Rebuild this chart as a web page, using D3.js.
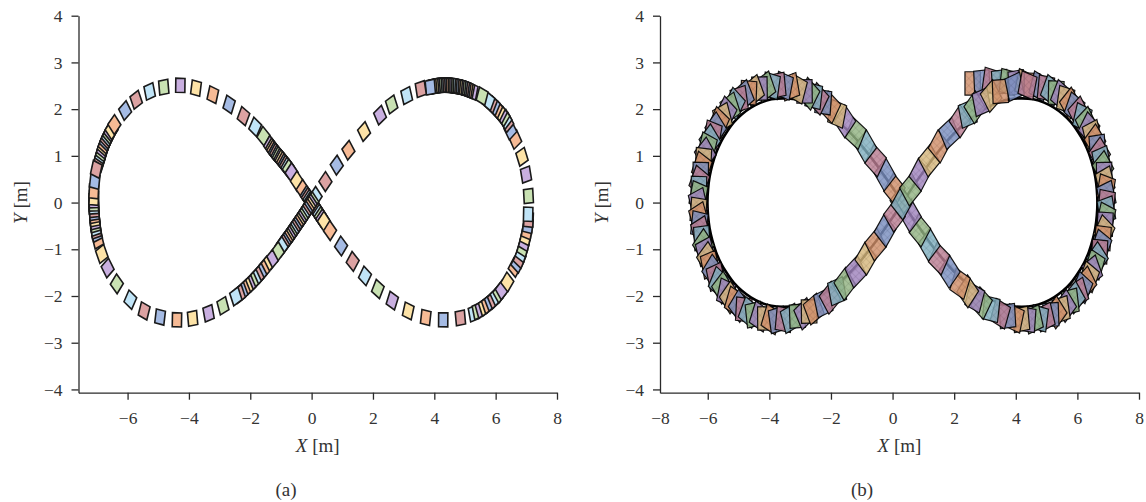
<!DOCTYPE html>
<html><head><meta charset="utf-8">
<script src="https://cdn.jsdelivr.net/npm/d3@7"></script>
<style>
body{margin:0;background:#fff}
svg{display:block}
svg text{font-family:"Liberation Serif","DejaVu Serif","Times New Roman",serif;fill:#333}
</style>
</head><body>
<svg id="c" width="1146" height="502"></svg>
<script>
// ---------------- data ----------------
const xTickValuesA = [-6,-4,-2,0,2,4,6,8];
const xTickValuesB = [-8,-6,-4,-2,0,2,4,6,8];
const yTickValues = [-4,-3,-2,-1,0,1,2,3,4];
const panelLabels = ["(a)","(b)"];

// colour cycle: orange, blue, red, light blue, green, purple, yellow
const paletteA = ["#f6ba95","#a5bbe4","#dca2a2","#c0e4f7","#c9e2b3","#c9afe0","#fde3a7"];
const paletteB = ["#cf8f6a","#7a8fc0","#b97e92","#80b0bf","#92b383","#a084bd","#d6b77c"];

// (a) vehicle poses along the trajectory (centres, metres)
const aX = [
-6.94,-6.92,-6.89,-6.87,-6.84,-6.81,-6.78,-6.75,-6.71,-6.68,-6.64,-6.60,-6.56,-6.52,
-6.43,-6.08,-5.72,-5.28,-4.82,-4.28,-3.77,-3.22,-2.69,-2.22,-1.84,-1.57,-1.35,
-1.29,-1.25,-1.20,-1.16,-1.11,-1.07,-1.02,-0.98,-0.93,-0.88,-0.84,-0.79,-0.74,
-0.65,-0.48,-0.29,
-0.16,-0.12,-0.07,-0.03,0.02,0.06,0.11,0.15,0.20,0.25,0.30,0.35,0.40,
0.60,0.96,1.34,1.74,2.16,2.63,3.15,3.72,4.29,4.85,5.29,
5.42,5.53,5.64,5.74,5.84,5.94,6.03,6.12,6.20,
6.38,6.62,
6.71,6.78,6.84,6.89,6.94,6.98,7.02,7.05,7.07,
7.06,7.07,6.99,6.86,6.64,6.48,
6.38,6.32,6.25,6.17,6.10,6.02,5.94,5.85,5.77,
5.56,5.24,
5.13,5.08,5.02,4.97,4.91,4.86,4.80,4.75,4.69,4.64,4.58,4.53,4.47,4.42,4.36,4.31,4.25,4.20,4.14,4.09,4.03,3.98,3.92,3.87,
3.56,3.10,2.61,2.23,1.71,1.20,0.82,0.45,0.13,
0.02,-0.03,-0.08,-0.13,-0.18,-0.23,-0.28,-0.33,-0.38,-0.43,-0.48,-0.53,-0.58,-0.63,-0.68,-0.73,-0.78,-0.83,-0.88,-0.93,-0.98,
-1.10,-1.30,-1.49,
-1.58,-1.67,-1.76,-1.85,-1.94,-2.03,-2.11,-2.20,-2.28,-2.36,
-2.47,-2.89,-3.36,-3.88,-4.39,-4.94,-5.46,-5.91,-6.35,-6.65,-6.84,-6.97,
-7.01,-7.03,-7.04,-7.05,-7.06,-7.07,-7.08,-7.09,-7.09,-7.10,-7.10,-7.10,-7.10,
-7.10,-7.07,-7.02
];
const aY = [
0.85,0.91,0.97,1.03,1.08,1.14,1.20,1.25,1.31,1.36,1.41,1.46,1.51,1.56,
1.67,1.97,2.20,2.38,2.47,2.51,2.45,2.31,2.10,1.85,1.62,1.42,1.22,
1.17,1.13,1.09,1.06,1.02,0.99,0.95,0.92,0.88,0.84,0.80,0.76,0.72,
0.64,0.46,0.28,
0.15,0.11,0.07,0.03,-0.02,-0.06,-0.11,-0.15,-0.20,-0.25,-0.30,-0.35,-0.40,
-0.60,-0.93,-1.26,-1.57,-1.85,-2.10,-2.32,-2.46,-2.51,-2.47,-2.37,
-2.32,-2.28,-2.23,-2.18,-2.12,-2.07,-2.00,-1.94,-1.87,
-1.70,-1.39,
-1.30,-1.20,-1.08,-0.97,-0.85,-0.73,-0.61,-0.49,-0.37,
-0.25,0.14,0.60,0.98,1.35,1.55,
1.71,1.78,1.84,1.90,1.96,2.01,2.07,2.12,2.17,
2.28,2.38,
2.41,2.42,2.44,2.45,2.46,2.47,2.48,2.48,2.49,2.50,2.50,2.51,2.51,2.51,2.51,2.51,2.51,2.51,2.50,2.50,2.49,2.49,2.48,2.47,
2.43,2.29,2.10,1.87,1.52,1.12,0.80,0.45,0.13,
0.02,-0.03,-0.08,-0.13,-0.18,-0.23,-0.28,-0.33,-0.38,-0.43,-0.47,-0.52,-0.57,-0.62,-0.67,-0.71,-0.76,-0.80,-0.85,-0.89,-0.94,
-1.05,-1.22,-1.36,
-1.44,-1.51,-1.57,-1.64,-1.70,-1.76,-1.81,-1.86,-1.91,-1.96,
-2.01,-2.21,-2.37,-2.48,-2.51,-2.45,-2.32,-2.08,-1.74,-1.40,-1.10,-0.80,
-0.66,-0.60,-0.54,-0.47,-0.41,-0.35,-0.28,-0.22,-0.16,-0.09,-0.03,0.04,0.10,
0.24,0.46,0.71
];

// (b) reference path (inner edge of the swept band), closed figure eight
const refX = [
0.32,0.57,0.86,1.15,1.46,1.77,2.10,2.34,2.56,2.77,3.07,3.35,3.79,4.20,4.57,4.92,5.24,5.53,5.79,6.01,6.21,6.37,6.49,6.58,6.63,6.65,
6.63,6.58,6.49,6.37,6.21,6.01,5.79,5.53,5.24,4.92,4.57,4.20,3.79,3.35,3.07,2.77,2.56,2.34,2.10,1.77,1.46,1.15,0.86,0.57,
0.32,0.07,-0.22,-0.51,-0.82,-1.13,-1.46,-1.70,-1.92,-2.13,-2.43,-2.71,-3.15,-3.56,-3.93,-4.28,-4.60,-4.89,-5.15,-5.37,-5.57,-5.73,-5.85,-5.94,-5.99,-6.01,
-5.99,-5.94,-5.85,-5.73,-5.57,-5.37,-5.15,-4.89,-4.60,-4.28,-3.93,-3.56,-3.15,-2.71,-2.43,-2.13,-1.92,-1.70,-1.46,-1.13,-0.82,-0.51,-0.22,0.07
];
const refY = [
0.00,0.25,0.53,0.80,1.07,1.32,1.55,1.69,1.81,1.91,2.03,2.12,2.21,2.23,2.21,2.14,2.03,1.89,1.72,1.52,1.30,1.06,0.81,0.55,0.28,0.00,
-0.28,-0.55,-0.81,-1.06,-1.30,-1.52,-1.72,-1.89,-2.03,-2.14,-2.21,-2.23,-2.21,-2.12,-2.03,-1.91,-1.81,-1.69,-1.55,-1.32,-1.07,-0.80,-0.53,-0.25,
0.00,0.25,0.53,0.80,1.07,1.32,1.55,1.69,1.81,1.91,2.03,2.12,2.21,2.23,2.21,2.14,2.03,1.89,1.72,1.52,1.30,1.06,0.81,0.55,0.28,0.00,
-0.28,-0.55,-0.81,-1.06,-1.30,-1.52,-1.72,-1.89,-2.03,-2.14,-2.21,-2.23,-2.21,-2.12,-2.03,-1.91,-1.81,-1.69,-1.55,-1.32,-1.07,-0.80,-0.53,-0.25
];

// (b) vehicle poses: centre x, centre y (m), heading (deg)
const bX = [
2.60,2.90,3.20,3.48,3.75,4.02,4.28,4.52,4.75,
4.98,5.14,5.31,5.47,5.62,5.77,5.91,6.04,6.16,6.28,6.38,6.48,6.57,6.65,6.72,6.78,6.83,6.87,6.90,6.93,6.94,6.95,
6.94,6.93,6.90,6.87,6.83,6.78,6.72,6.65,6.57,6.48,6.38,6.28,6.16,6.04,5.91,5.77,5.62,5.47,5.31,5.14,4.96,4.77,4.58,4.38,
4.17,3.96,3.73,3.50,3.20,2.89,2.67,2.44,2.19,1.84,1.51,1.19,0.885,0.58,
0.27,0.06,-0.245,-0.55,-0.87,-1.20,-1.55,-1.80,-2.03,-2.25,-2.41,-2.56,-2.71,-2.86,-3.09,-3.32,-3.53,-3.74,
-3.94,-4.13,-4.32,-4.50,-4.67,-4.83,-4.98,-5.13,-5.27,-5.40,-5.52,-5.64,-5.74,-5.84,-5.93,-6.01,-6.08,-6.14,-6.19,-6.23,-6.27,-6.29,-6.30,-6.31,
-6.30,-6.29,-6.27,-6.23,-6.19,-6.14,-6.08,-6.01,-5.93,-5.84,-5.74,-5.64,-5.52,-5.40,-5.27,-5.13,-4.98,-4.83,-4.67,-4.50,-4.32,-4.13,-3.94,-3.74,
-3.53,-3.32,-3.09,-2.86,-2.71,-2.56,-2.25,-2.03,-1.80,-1.55,-1.20,-0.87,-0.55,-0.245,0.06,
0.30,0.58,0.885,1.19,1.51,1.84,2.19,2.44,2.67,2.89,3.20,3.50,3.96,4.38
];
const bY = [
2.55,2.58,2.60,2.58,2.58,2.57,2.55,2.52,2.49,
2.45,2.40,2.35,2.29,2.21,2.12,2.03,1.93,1.82,1.71,1.59,1.46,1.33,1.19,1.05,0.91,0.76,0.61,0.46,0.31,0.16,0.00,
-0.16,-0.31,-0.46,-0.61,-0.76,-0.91,-1.05,-1.19,-1.33,-1.46,-1.59,-1.71,-1.82,-1.93,-2.03,-2.12,-2.21,-2.29,-2.35,-2.40,-2.45,-2.48,-2.50,-2.51,
-2.50,-2.48,-2.43,-2.38,-2.28,-2.15,-2.04,-1.90,-1.74,-1.48,-1.20,-0.90,-0.60,-0.28,
0.02,0.28,0.60,0.90,1.20,1.48,1.74,1.90,2.04,2.15,2.22,2.28,2.33,2.38,2.43,2.48,2.50,2.51,
2.50,2.48,2.44,2.40,2.35,2.29,2.21,2.12,2.03,1.93,1.82,1.71,1.59,1.46,1.33,1.19,1.05,0.91,0.76,0.61,0.46,0.31,0.16,0.00,
-0.16,-0.31,-0.46,-0.61,-0.76,-0.91,-1.05,-1.19,-1.33,-1.46,-1.59,-1.71,-1.82,-1.93,-2.03,-2.12,-2.21,-2.29,-2.35,-2.40,-2.44,-2.48,-2.50,-2.51,
-2.50,-2.48,-2.43,-2.38,-2.33,-2.28,-2.15,-2.04,-1.90,-1.74,-1.48,-1.20,-0.90,-0.60,-0.28,
-0.02,0.28,0.60,0.90,1.20,1.48,1.74,1.90,2.04,2.15,2.28,2.38,2.48,2.51
];
const bH = [
0,4,-12,5,-10,6,-18,-2,-22,
-8,-29,-2,-30.5,-12,-50,-28,-53.5,-19,-55,-37,-70.5,-48,-84,-48,-73.5,-51,-89,-69,-104.5,-72,-98,
-76,-109.5,-93,-125,-95,-118.5,-94,-136,-114,-151.5,-119,-143,-121,-156.5,-140,-170,-138,-167.5,-137,-177,-161,-190.5,-162,-186,
-172,-197.5,-175,-203,-189.5,-216,-201,-224,-205,-226,-214,-229,-218.5,-229,
131,141,130.5,144,131,148.5,135,164,145,174,144,170.5,143,181,159,194.5,164,188,
168,207.5,181,209,177,210.5,192,234,206,233.5,201,237,223,254.5,222,250,220,265.5,243,269,241,268.5,254,290,
264,293.5,261,293,275,314.5,290,312,286,317.5,287,329,311,342.5,314,336,318,355.5,331,369,335,360.5,336,372,
-8,21.5,3,33,1,29.5,18,39,16,41,35,49,38,49.5,41,
50,39,51.5,39,51,32,45,16,43,16,37.5,3,17.5,-16
];

// ---------------- layout ----------------
const svg = d3.select("#c");
const yDomain = [-4.07, 4];
const panels = [
  {xDomain:[-7.6,8], xRange:[78.5,557], ticks:xTickValuesA, label:panelLabels[0], capX:286},
  {xDomain:[-7.55,8], xRange:[660,1139], ticks:xTickValuesB, label:panelLabels[1], capX:862}
];
const yScale = d3.scaleLinear().domain(yDomain).range([392.7,15.7]);
const fmt = d => d3.format("")(d);

function boxPoints(cx, cy, hDeg, L, W, sx, sy){
  const t = hDeg*Math.PI/180, c = Math.cos(t), s = Math.sin(t);
  return [[L/2,W/2],[-L/2,W/2],[-L/2,-W/2],[L/2,-W/2]]
    .map(([u,v]) => [sx(cx+u*c-v*s), sy(cy+u*s+v*c)]);
}

// textured fills for panel b
const defs = svg.append("defs");
paletteB.forEach((col,i)=>{
  const p = defs.append("pattern").attr("id","pb"+i).attr("patternUnits","userSpaceOnUse")
    .attr("width",5).attr("height",5).attr("patternTransform","rotate(45)");
  p.append("rect").attr("width",5).attr("height",5).attr("fill",col).attr("fill-opacity",0.82);
  p.append("path").attr("d","M0,0V5M0,0H5").attr("stroke",d3.color(col).darker(1)).attr("stroke-opacity",0.55).attr("stroke-width",0.8);
});

panels.forEach((P, pi)=>{
  const x = d3.scaleLinear().domain(P.xDomain).range(P.xRange).clamp(true);
  const g = svg.append("g");

  const ax = g.append("g").attr("transform",`translate(0,${yScale(yDomain[0])})`)
    .call(d3.axisBottom(x).tickValues(P.ticks).tickSize(7).tickPadding(12).tickSizeOuter(0).tickFormat(fmt));
  ax.selectAll(".tick").filter(d => d < P.xDomain[0]).select("line").remove();
  const ay = g.append("g").attr("transform",`translate(${P.xRange[0]},0)`)
    .call(d3.axisLeft(yScale).tickValues(yTickValues).tickSize(7).tickPadding(9).tickSizeOuter(0).tickFormat(fmt));
  [ax,ay].forEach(a=>{
    a.attr("font-size",17.5);
    a.select(".domain").attr("stroke","#2a2a2a").attr("stroke-width",1.3);
    a.selectAll(".tick line").attr("stroke","#2a2a2a").attr("stroke-width",1.3);
  });

  const xt = g.append("text").attr("x",(P.xRange[0]+P.xRange[1])/2).attr("y",452)
    .attr("text-anchor","middle").attr("font-size",19);
  xt.append("tspan").attr("font-style","italic").text("X");
  xt.append("tspan").text(" [m]");
  const yt = g.append("text").attr("transform",`translate(${P.xRange[0]-52},${yScale(0)}) rotate(-90)`)
    .attr("text-anchor","middle").attr("font-size",19);
  yt.append("tspan").attr("font-style","italic").text("Y");
  yt.append("tspan").text(" [m]");
  g.append("text").attr("x",P.capX).attr("y",496).attr("text-anchor","middle")
    .attr("font-size",19).text(P.label);

  const line = d3.line();
  if(pi===0){
    const n = aX.length;
    const heading = i => {
      let j=(i+1)%n, k=(i-1+n)%n;
      while(Math.hypot(aX[j]-aX[i],aY[j]-aY[i])<0.15) j=(j+1)%n;
      while(Math.hypot(aX[k]-aX[i],aY[k]-aY[i])<0.15) k=(k-1+n)%n;
      return Math.atan2(aY[j]-aY[k], aX[j]-aX[k])*180/Math.PI;
    };
    g.append("g").selectAll("path").data(d3.range(n)).join("path")
      .attr("d", i => line(boxPoints(aX[i],aY[i],heading(i),0.30,0.30,x,yScale))+"Z")
      .attr("fill", i => paletteA[i%7])
      .attr("stroke","#1a1a1a").attr("stroke-width",1.6).attr("stroke-linejoin","miter");
  } else {
    const refLine = d3.line().x(i=>x(refX[i])).y(i=>yScale(refY[i])).curve(d3.curveCatmullRomClosed);
    g.append("path").attr("d", refLine(d3.range(refX.length)))
      .attr("fill","none").attr("stroke","#000").attr("stroke-width",2.6);
    g.append("g").selectAll("path").data(d3.range(bX.length)).join("path")
      .attr("d", i => line(boxPoints(bX[i],bY[i],bH[i],0.5,0.5,x,yScale))+"Z")
      .attr("fill", i => `url(#pb${i%7})`)
      .attr("stroke","#000").attr("stroke-width",1.2).attr("stroke-opacity",0.9);
  }
});
</script>
</body></html>
